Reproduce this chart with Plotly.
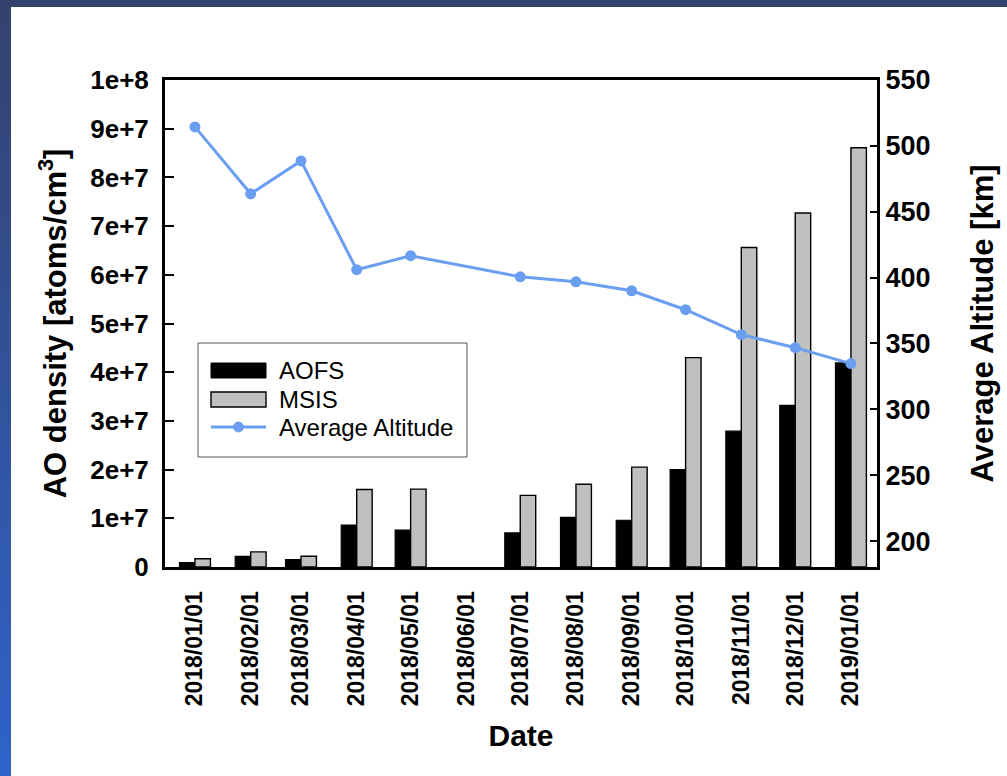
import plotly.graph_objects as go

# Monthly AO density comparison and mean orbital altitude
dates = ["2018-01-01", "2018-02-01", "2018-03-01", "2018-04-01", "2018-05-01",
         "2018-06-01", "2018-07-01", "2018-08-01", "2018-09-01", "2018-10-01",
         "2018-11-01", "2018-12-01", "2019-01-01"]
date_labels = ["2018/01/01", "2018/02/01", "2018/03/01", "2018/04/01", "2018/05/01",
               "2018/06/01", "2018/07/01", "2018/08/01", "2018/09/01", "2018/10/01",
               "2018/11/01", "2018/12/01", "2019/01/01"]
aofs = [0.9e6, 2.2e6, 1.5e6, 8.6e6, 7.6e6, None, 7.0e6, 10.2e6, 9.6e6,
        20.0e6, 27.9e6, 33.2e6, 41.9e6]
msis = [1.7e6, 3.1e6, 2.2e6, 15.9e6, 16.0e6, None, 14.7e6, 17.0e6, 20.5e6,
        43.0e6, 65.6e6, 72.7e6, 86.1e6]
altitude = [514.4, 463.6, 488.6, 406.0, 416.6, None, 400.6, 396.8, 390.0,
            375.6, 356.7, 346.8, 334.7]

y_ticks = [0, 1e7, 2e7, 3e7, 4e7, 5e7, 6e7, 7e7, 8e7, 9e7, 1e8]
y_tick_text = ["0", "1e+7", "2e+7", "3e+7", "4e+7", "5e+7", "6e+7",
               "7e+7", "8e+7", "9e+7", "1e+8"]
alt_ticks = [200, 250, 300, 350, 400, 450, 500, 550]
series_names = ["AOFS", "MSIS", "Average Altitude"]

DAY_MS = 86400000
bar_w = 8.6 * DAY_MS
FONT = "Liberation Sans, Arial, sans-serif"
LINE_BLUE = "#6a9ef0"
BAR_GREY = "#c0c0c0"

W, H = 1007, 776
ML, MR, MT, MB = 165, 130, 80, 209
PW, PH = W - ML - MR, H - MT - MB


def px(x):
    return (x - ML) / PW


def py(y):
    return (H - MB - y) / PH


fig = go.Figure()
fig.add_trace(go.Bar(
    x=dates, y=aofs, name=series_names[0], width=bar_w, offset=-bar_w,
    marker=dict(color="black", line=dict(color="black", width=1.2)),
))
fig.add_trace(go.Bar(
    x=dates, y=msis, name=series_names[1], width=bar_w, offset=0,
    marker=dict(color=BAR_GREY, line=dict(color="black", width=1.4)),
))
fig.add_trace(go.Scatter(
    x=dates, y=altitude, name=series_names[2], yaxis="y2",
    mode="lines+markers", connectgaps=True,
    line=dict(color=LINE_BLUE, width=3),
    marker=dict(color=LINE_BLUE, size=11),
))

shapes = []
# slide-style border: gradient strip on the left, dark band on top
top_c = (52, 66, 110)
bot_c = (47, 99, 201)
n = 40
for i in range(n):
    t = i / (n - 1)
    c = tuple(int(round(top_c[k] + (bot_c[k] - top_c[k]) * t)) for k in range(3))
    shapes.append(dict(type="rect", xref="paper", yref="paper",
                       x0=px(-2), x1=px(11),
                       y0=py((i + 1) * H / n + 1), y1=py(i * H / n),
                       layer="below", line_width=0,
                       fillcolor="rgb(%d,%d,%d)" % c))
shapes.append(dict(type="rect", xref="paper", yref="paper",
                   x0=px(-2), x1=px(W + 2), y0=py(7), y1=py(-2),
                   layer="below", line_width=0, fillcolor="#34426e"))

# legend panel
shapes.append(dict(type="rect", xref="paper", yref="paper",
                   x0=px(198), x1=px(467), y0=py(457), y1=py(343),
                   line=dict(color="#555555", width=1), fillcolor="white",
                   layer="above"))
shapes.append(dict(type="rect", xref="paper", yref="paper",
                   x0=px(211), x1=px(266), y0=py(378), y1=py(363),
                   line=dict(color="black", width=1), fillcolor="black",
                   layer="above"))
shapes.append(dict(type="rect", xref="paper", yref="paper",
                   x0=px(211), x1=px(266), y0=py(407), y1=py(392),
                   line=dict(color="black", width=1.4), fillcolor=BAR_GREY,
                   layer="above"))
shapes.append(dict(type="line", xref="paper", yref="paper",
                   x0=px(211), x1=px(266), y0=py(427), y1=py(427),
                   line=dict(color=LINE_BLUE, width=3), layer="above"))
shapes.append(dict(type="circle", xref="paper", yref="paper",
                   x0=px(233.5), x1=px(243.5), y0=py(432), y1=py(422),
                   line=dict(color=LINE_BLUE, width=1), fillcolor=LINE_BLUE,
                   layer="above"))

annotations = []
for name, yy in zip(series_names, [370, 399, 427]):
    annotations.append(dict(text=name, xref="paper", yref="paper",
                            x=px(277), y=py(yy), xanchor="left", yanchor="middle",
                            showarrow=False,
                            font=dict(size=24, family=FONT, color="black")))

fig.update_layout(
    width=W, height=H,
    margin=dict(l=ML, r=MR, t=MT, b=MB),
    paper_bgcolor="white", plot_bgcolor="white",
    barmode="overlay",
    font=dict(family=FONT, color="black"),
    shapes=shapes,
    annotations=annotations,
    showlegend=False,
    xaxis=dict(
        type="date",
        range=["2017-12-15 08:00", "2019-01-15 12:00"],
        tickvals=dates, ticktext=date_labels, tickangle=-90,
        tickfont=dict(size=23, family=FONT, weight="bold"),
        ticks="", showgrid=False, zeroline=False,
        showline=True, linecolor="black", linewidth=3, mirror=True,
        ticklabelstandoff=12,
        title=dict(text="Date", standoff=20,
                   font=dict(size=30, family=FONT, weight="bold")),
    ),
    yaxis=dict(
        range=[0, 1e8], tickvals=y_ticks, ticktext=y_tick_text,
        tickfont=dict(size=26, family=FONT, weight="bold"),
        ticks="inside", ticklen=9, tickwidth=2, tickcolor="black",
        showgrid=False, zeroline=False,
        showline=True, linecolor="black", linewidth=3,
        ticklabelstandoff=8,
        title=dict(text="AO density [atoms/cm<sup>3</sup>]", standoff=15,
                   font=dict(size=31, family=FONT, weight="bold")),
    ),
    yaxis2=dict(
        overlaying="y", side="right",
        range=[180.3, 550], tickvals=alt_ticks,
        tickfont=dict(size=27, family=FONT, weight="bold"),
        ticks="inside", ticklen=7, tickwidth=2, tickcolor="black",
        showgrid=False, zeroline=False,
        showline=True, linecolor="black", linewidth=3,
        ticklabelstandoff=0,
        title=dict(text="Average Altitude [km]", standoff=42,
                   font=dict(size=31, family=FONT, weight="bold")),
    ),
)

fig.write_html("out.html")
